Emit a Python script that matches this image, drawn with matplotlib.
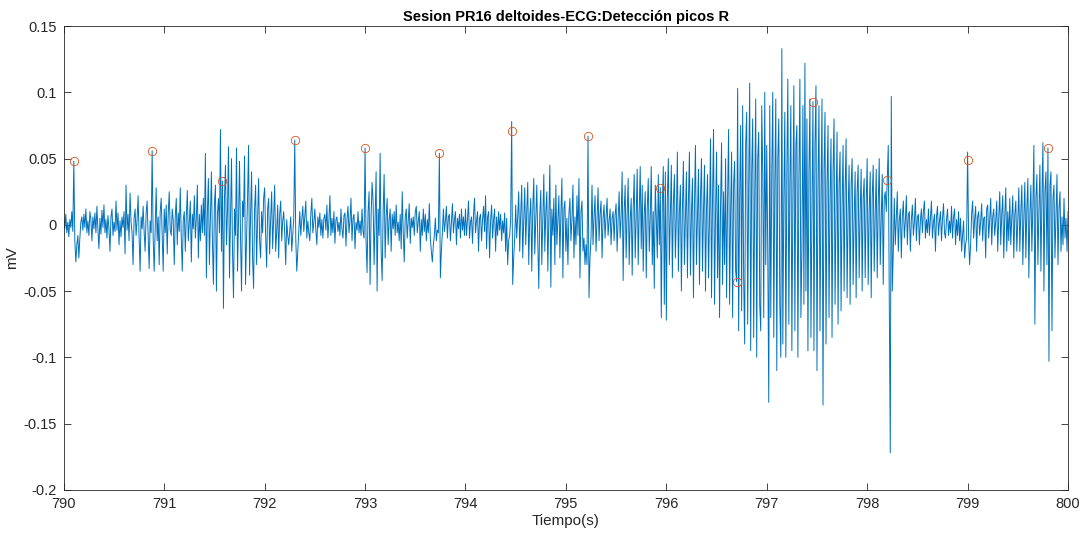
import numpy as np
import matplotlib
matplotlib.use("Agg")
import matplotlib.pyplot as plt
from matplotlib.ticker import FuncFormatter

plt.rcParams['font.family'] = ['Liberation Sans', 'DejaVu Sans']

# Signal samples every 0.01 s, in units of 0.001 mV, one list per second
t_start = 790.0
dt = 0.01
s790 = [5, -3, 8, -6, 2, -9, 4, -2, 10, -5, 48, -12, -28, -15, -8, -25, -10, 2, 6, -4,
        8, -2, 12, -6, 3, -8, 10, 4, -12, 6, -3, 9, -6, 14, -4, -18, 5, -7, 11, -2,
        15, -6, 4, -10, 7, -3, -20, 6, 12, -8, 2, -5, 18, -4, 9, -15, 3, -9, 6, -2,
        10, -22, 30, -4, 8, -12, 24, 2, -6, -30, 5, 12, -8, 4, 22, -10, -35, 6, -3, 14,
        -5, -20, 9, 18, -7, -33, 3, -6, 56, -10, -35, -5, 28, -12, 6, -30, 10, 20, -8, -35]
s791 = [12, -6, 15, -22, 8, 25, -4, -8, 12, 3, -30, 6, 20, -15, 9, -5, 28, -10, -35, 4,
        10, -20, 6, 26, -12, 2, 18, -28, 8, -3, 22, -10, 5, 30, -25, 8, -12, 15, -6, 20,
        -8, 54, -40, 10, 35, -30, 6, 40, -12, -45, 15, 30, -50, 8, 20, -6, 72, -20, 33, -63,
        20, 45, -15, 10, 59, -40, 5, 50, -20, -55, 12, -8, 58, -35, 4, 48, -10, -50, 18, 6,
        52, -45, -10, 20, 60, -38, 8, 40, -25, -48, 12, 30, -30, 5, 35, -12, -25, 10, -6, 20]
s792 = [28, -8, -32, 12, 20, -22, 4, 25, -18, 6, 30, -20, -5, 15, -25, 8, 18, -12, 3, 10,
        -6, -30, 4, -8, -15, -4, 6, -20, -8, 5, 64, -10, -35, -20, -6, 10, -8, 4, 14, -5,
        6, 18, -10, 3, -6, -12, 8, 20, -6, 2, 12, -4, -15, 6, -2, 9, -8, 4, -10, 5,
        8, -4, 15, -10, 3, 22, -8, 5, -6, 10, -14, 4, 6, -5, 2, -8, 12, -3, -10, 7,
        9, -16, 4, 14, -6, 3, 20, -12, 5, 8, -18, 2, -4, 10, -6, 3, -8, 12, -5, -10]
s793 = [58, -12, -36, 10, 25, -45, 6, 32, 18, -30, 4, 40, -50, 12, -8, 54, -20, -42, 10, 38,
        -25, 6, 20, -15, 4, 12, -20, 8, -3, 10, -8, 15, -6, 2, -12, 8, -18, 25, -5, -28,
        6, 12, -10, 3, 16, -14, 5, -2, 6, -8, 10, 14, -6, 3, 10, -20, 4, -8, 12, -5,
        8, -12, 4, -6, 16, -10, -20, -28, -15, -8, 5, -12, -4, -6, 54, -40, -20, -6, 12, -5,
        3, 14, -10, 6, 8, -12, 2, 16, -6, 4, 10, -15, 5, -3, 8, -10, 12, -4, 6, -8]
s794 = [12, -8, 4, 18, -10, 2, 6, -14, 8, 20, -6, 3, 10, -20, 5, 8, -12, 4, 14, -5,
        22, -18, 6, 10, -25, 3, 15, -10, 4, 12, -20, 6, -8, 10, -4, 8, -12, 3, -6, 9,
        -20, 5, -30, -12, -8, 4, 78, -45, -25, -10, 15, -10, 6, 25, -20, 8, 30, -25, 4, 28,
        -15, 10, 32, -30, 6, 20, -35, 12, 35, -22, 4, 30, -12, -48, 8, 26, -30, 5, 38, -20,
        10, 25, -35, 6, 45, -47, 12, -8, 20, -30, 30, -15, 4, 22, -25, 8, 35, -40, 12, 18]
s795 = [-20, 5, -30, 8, 20, -12, 4, 30, -25, 6, -15, 22, -8, 35, -40, 10, 18, -20, -10, -30,
        -15, -30, 67, -55, -25, -10, 30, -15, 6, 22, -20, 4, 28, -12, 8, 18, -25, 5, 15, -10,
        6, 20, -8, 3, 12, -15, 5, 10, -12, 8, 16, -20, 4, 25, -10, 6, 40, -42, 10, 30,
        -25, 8, 35, -30, 4, 20, -38, 12, 38, -25, 6, 42, -30, 10, 44, -18, 30, -35, 8, 25,
        -40, 12, 35, -20, 6, 44, -30, 10, -48, 30, 5, -25, 38, -15, 28, -70, 15, 44, -60, 40]
s796 = [-72, 20, 50, -30, 8, 45, -40, 15, 38, -25, 6, 55, -35, 10, 30, -50, 12, 48, -30, 5,
        40, -40, 18, 55, -38, 8, 35, -55, 15, 60, -30, 6, 42, -45, 20, 50, -35, 10, 45, -50,
        12, 38, -40, 5, 65, -55, 20, 72, -60, 8, 55, -40, 30, -70, 15, 62, -45, 25, -30, 50,
        -55, 20, 72, -60, 10, 55, -70, 30, 48, -35, -43, 103, -80, 20, 75, -65, 90, -40, -90, 60,
        85, -75, 30, 107, -95, 40, 80, -85, 20, 95, -100, 50, 70, -60, -80, 90, 40, -70, 100, -30]
s797 = [60, -20, -134, 90, -70, 40, 100, -85, 30, 95, -110, 50, 80, -60, -100, 133, -90, 20, 85, -100,
        40, 110, -75, 30, 90, -95, 20, 105, -80, 60, 75, -100, 35, 110, -70, -20, 90, -60, 122, -50,
        80, -95, 40, 95, -85, 10, 93, -95, 60, 105, -110, 30, 90, -80, 20, 95, -136, 40, 85, -90,
        30, 75, -70, 20, 65, -85, 40, 80, -60, 10, 70, -75, 30, 55, -65, 15, 60, -50, 25, 65,
        -55, 10, 45, -60, 30, 50, -45, 5, 40, -55, 25, 45, -40, 10, 42, -50, 20, 35, -40, 15]
s798 = [50, -45, 10, 40, -55, 20, 45, -35, 8, 42, -40, 15, 50, -30, 5, 38, -45, 20, 25, 10,
        34, 60, -50, -172, 97, -50, -20, 20, -15, 5, 25, -20, 4, 12, -25, 6, 18, -10, 3, 22,
        -15, 8, 10, -20, 4, 15, -8, 2, 20, -12, 6, 8, -15, 3, 12, -6, 10, 18, -10, 4,
        -6, 12, -8, 5, 18, -10, 2, 8, -20, 6, 14, -8, 3, 10, -12, 5, 16, -6, -10, 4,
        12, -8, 3, -6, 14, -10, 6, 12, -15, 4, -8, 10, -12, 5, -20, -8, 3, -25, -15, -10]
s799 = [55, -10, -30, -15, 8, 18, -10, 4, 14, -20, 6, 10, -8, 3, 16, -12, 5, 6, -25, 12,
        15, -10, 4, 20, -15, 6, 12, -8, 3, 18, -20, 5, 25, -15, 8, 22, -25, 6, 28, -20,
        10, -12, 20, -15, 6, 22, -25, 8, 18, -20, 4, 28, -20, 10, 30, -30, 6, 32, -25, 12,
        35, -40, 8, 30, -20, 15, 60, -75, 20, 38, -30, 10, 45, -35, 20, 62, -50, 25, 40, -30,
        58, -103, 30, 40, -80, 20, 30, -25, 8, 38, -30, 12, 25, -20, 6, -15, 20, -10, 5, -20, 10]

# Detected R peaks (red circles)
peak_t = [790.10, 790.88, 791.58, 792.30, 793.00, 793.74, 794.46, 795.22, 795.94, 796.70,
          797.46, 798.20, 799.00, 799.80]
peak_v = [0.048, 0.056, 0.033, 0.064, 0.058, 0.054, 0.071, 0.067, 0.028, -0.043,
          0.093, 0.034, 0.049, 0.058]

title = "Sesion PR16 deltoides-ECG:Detección picos R"
xlabel = "Tiempo(s)"
ylabel = "mV"
xticks = list(range(790, 801))
yticks = [-0.2, -0.15, -0.1, -0.05, 0, 0.05, 0.1, 0.15]

sig = np.array(s790 + s791 + s792 + s793 + s794 + s795 + s796 + s797 + s798 + s799) / 1000.0
t = t_start + np.arange(len(sig)) * dt

fig = plt.figure(figsize=(10.81, 5.33), dpi=100)
ax = fig.add_axes([0.059, 0.081, 0.929, 0.870])
ax.plot(t, sig, color='#0072BD', linewidth=0.7)
ax.plot(peak_t, peak_v, linestyle='none', marker='o', markersize=6,
        markerfacecolor='none', markeredgecolor='#D95319', markeredgewidth=0.6)

ax.set_xlim(790, 800)
ax.set_ylim(-0.2, 0.15)
ax.set_xticks(xticks)
ax.set_yticks(yticks)
ax.yaxis.set_major_formatter(FuncFormatter(lambda v, p: "%g" % round(v, 4)))
ax.tick_params(direction='in', top=True, right=True, length=5, width=0.6,
               colors='#262626', labelsize=10.5, pad=5)
for s in ax.spines.values():
    s.set_color('#262626')
    s.set_linewidth(0.6)
ax.set_title(title, fontsize=10.5, fontweight='bold', color='#000000', pad=4)
ax.set_xlabel(xlabel, fontsize=11, color='#262626', labelpad=2)
ax.set_ylabel(ylabel, fontsize=11, color='#262626')
ax.yaxis.set_label_coords(-0.045, 0.5)

fig.savefig("out.png", dpi=100)
